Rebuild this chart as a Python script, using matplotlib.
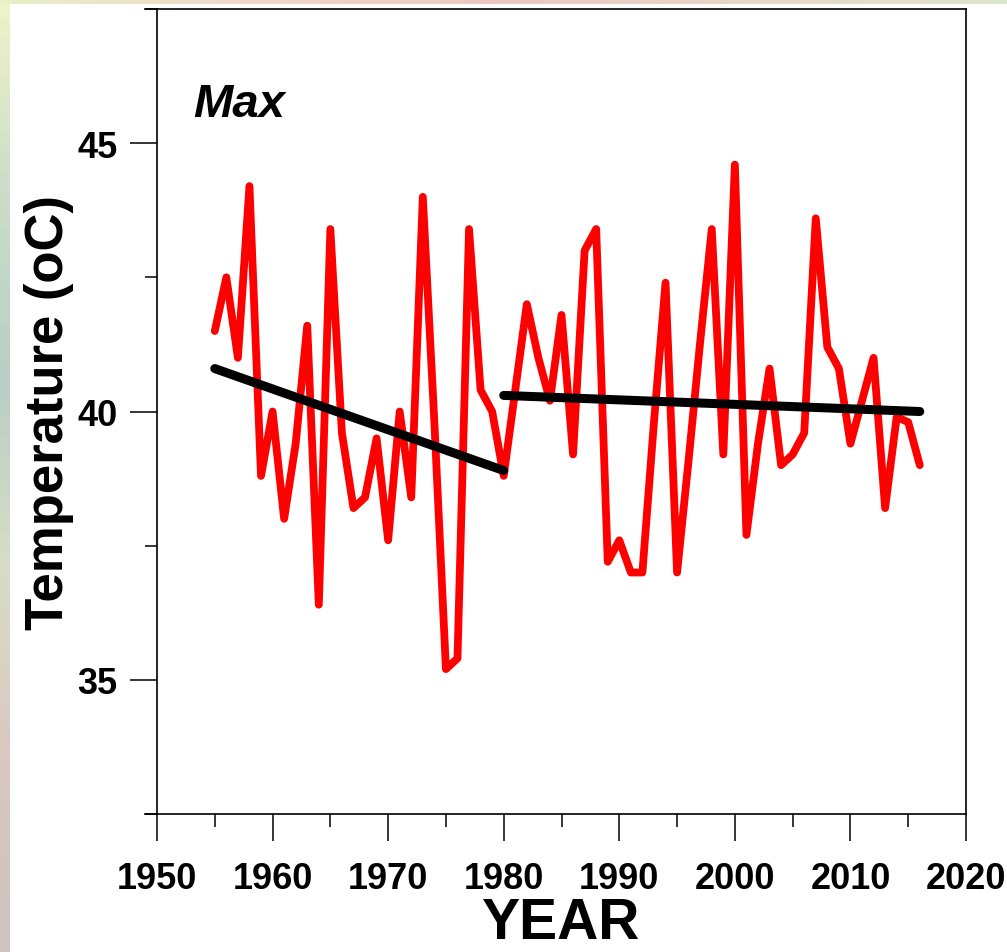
import numpy as np
import matplotlib.pyplot as plt
from matplotlib.ticker import MultipleLocator
from matplotlib.colors import LinearSegmentedColormap

# ---------- data ----------
years = list(range(1955, 2017))
tmax = [41.5, 42.5, 41.0, 44.2, 38.8, 40.0, 38.0, 39.4, 41.6, 36.4,
        43.4, 39.6, 38.2, 38.4, 39.5, 37.6, 40.0, 38.4, 44.0, 39.8,
        35.2, 35.4, 43.4, 40.4, 40.0, 38.8, 40.4, 42.0, 41.0, 40.2,
        41.8, 39.2, 43.0, 43.4, 37.2, 37.6, 37.0, 37.0, 39.8, 42.4,
        37.0, 39.1, 41.3, 43.4, 39.2, 44.6, 37.7, 39.4, 40.8, 39.0,
        39.2, 39.6, 43.6, 41.2, 40.8, 39.4, 40.2, 41.0, 38.2, 39.9,
        39.8, 39.0]

trend1_x = [1955, 1980]
trend1_y = [40.8, 38.9]
trend2_x = [1980, 2016]
trend2_y = [40.3, 40.0]

FONT = "Liberation Sans"

fig = plt.figure(figsize=(10.07, 9.53), dpi=100)
fig.patch.set_facecolor("white")

# faint coloured border strips (blurred background of the original slide)
edge_cmap = LinearSegmentedColormap.from_list(
    "edge", ["#eef2c8", "#c9ddc8", "#b9cfc6", "#d9ddc4", "#d8c8c0", "#cfc4c0"])
ax_l = fig.add_axes([0, 0, 0.009, 1])
ax_l.imshow(np.linspace(0, 1, 50).reshape(-1, 1), aspect="auto", cmap=edge_cmap)
ax_l.axis("off")
top_cmap = LinearSegmentedColormap.from_list(
    "top", ["#e8eec8", "#f0d8c8", "#ecc8c0", "#e8d8c8", "#dde6c8"])
ax_t = fig.add_axes([0, 0.995, 1, 0.005])
ax_t.imshow(np.linspace(0, 1, 50).reshape(1, -1), aspect="auto", cmap=top_cmap)
ax_t.axis("off")

ax = fig.add_axes([0.1559, 0.1448, 0.8034, 0.8447])
ax.plot(years, tmax, color="#ff0000", linewidth=5.6, solid_joinstyle="round",
        solid_capstyle="round", zorder=2)
ax.plot(trend1_x, trend1_y, color="black", linewidth=6.5, solid_capstyle="round", zorder=3)
ax.plot(trend2_x, trend2_y, color="black", linewidth=6.5, solid_capstyle="round", zorder=3)

ax.set_xlim(1950, 2020)
ax.set_ylim(32.5, 47.5)
ax.xaxis.set_major_locator(MultipleLocator(10))
ax.xaxis.set_minor_locator(MultipleLocator(5))
ax.yaxis.set_major_locator(MultipleLocator(5))
ax.yaxis.set_minor_locator(MultipleLocator(2.5))
ax.set_yticks([35, 40, 45])

for sp in ax.spines.values():
    sp.set_linewidth(1.2)
ax.tick_params(which="major", direction="out", length=19.5, width=1.1,
               labelsize=26, pad=14)
ax.tick_params(which="minor", direction="out", length=9, width=1.1)
ax.tick_params(axis="y", which="major", pad=9)
for lab in ax.get_xticklabels() + ax.get_yticklabels():
    lab.set_fontfamily(FONT)
    lab.set_fontweight("bold")

# frame lines that overhang the y axis on the left
for yy in (0, 1):
    ax.plot([-0.015, 0], [yy, yy], transform=ax.transAxes, color="black",
            linewidth=1.2, clip_on=False)

ax.set_xlabel("YEAR", fontsize=41, fontweight="bold", family=FONT, labelpad=0)
ax.set_ylabel("Temperature (oC)", fontsize=38, fontweight="bold", family=FONT, labelpad=2)

ax.text(1953.1, 45.5, "Max", fontsize=34, fontweight="bold", style="italic",
        family=FONT, ha="left", va="baseline")

fig.savefig("out.png", dpi=100, facecolor="white")
